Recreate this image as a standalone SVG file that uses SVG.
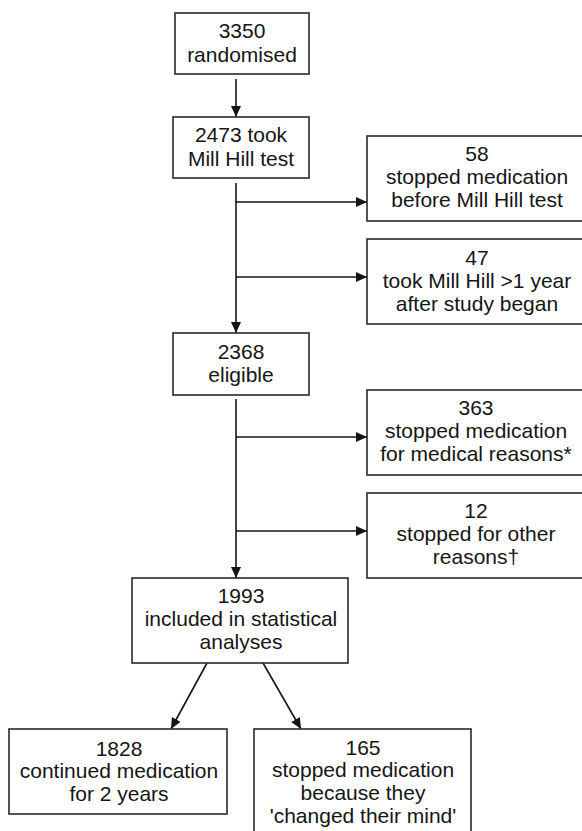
<svg xmlns="http://www.w3.org/2000/svg" width="582" height="831" viewBox="0 0 582 831">
<style>
.box{fill:#fff;stroke:#2a2a2a;stroke-width:1.6}
.t{font-family:"Liberation Sans",Arial,sans-serif;font-size:21px;fill:#151515;text-anchor:middle}
.c{stroke:#151515;stroke-width:1.6;fill:none;marker-end:url(#ah)}
</style>
<defs>
<marker id="ah" markerUnits="userSpaceOnUse" markerWidth="11" markerHeight="10" refX="11" refY="5" orient="auto">
<path d="M0,0 L11,5 L0,10 z" fill="#151515"/>
</marker>
</defs>
<rect width="582" height="831" fill="#fff"/>
<g id="connectors">
<line class="c" x1="236" y1="79" x2="236" y2="117"/>
<line class="c" x1="236" y1="183" x2="236" y2="333"/>
<line class="c" x1="236" y1="202" x2="367" y2="202"/>
<line class="c" x1="236" y1="277" x2="367" y2="277"/>
<line class="c" x1="236" y1="399" x2="236" y2="578"/>
<line class="c" x1="236" y1="437" x2="367" y2="437"/>
<line class="c" x1="236" y1="531" x2="367" y2="531"/>
<line class="c" x1="207" y1="663" x2="171" y2="729"/>
<line class="c" x1="263" y1="663" x2="301" y2="729"/>
</g>
<g id="n3350">
<rect class="box" x="175" y="13" width="134" height="61"/>
<text class="t" x="242" y="38">3350</text>
<text class="t" x="242" y="62">randomised</text>
</g>
<g id="n2473">
<rect class="box" x="173" y="117" width="136" height="61"/>
<text class="t" x="241" y="142">2473 took</text>
<text class="t" x="241" y="166">Mill Hill test</text>
</g>
<g id="n58">
<rect class="box" x="367" y="136" width="220" height="85"/>
<text class="t" x="477" y="161">58</text>
<text class="t" x="477" y="184">stopped medication</text>
<text class="t" x="477" y="207">before Mill Hill test</text>
</g>
<g id="n47">
<rect class="box" x="367" y="239" width="220" height="85"/>
<text class="t" x="477" y="265">47</text>
<text class="t" x="477" y="288">took Mill Hill &gt;1 year</text>
<text class="t" x="477" y="311">after study began</text>
</g>
<g id="n2368">
<rect class="box" x="173" y="333" width="136" height="62"/>
<text class="t" x="241" y="359">2368</text>
<text class="t" x="241" y="382">eligible</text>
</g>
<g id="n363">
<rect class="box" x="367" y="390" width="220" height="85"/>
<text class="t" x="476" y="415">363</text>
<text class="t" x="476" y="438">stopped medication</text>
<text class="t" x="476" y="461">for medical reasons*</text>
</g>
<g id="n12">
<rect class="box" x="367" y="493" width="220" height="85"/>
<text class="t" x="476" y="518">12</text>
<text class="t" x="476" y="541">stopped for other</text>
<text class="t" x="476" y="564">reasons†</text>
</g>
<g id="n1993">
<rect class="box" x="132" y="578" width="216" height="85"/>
<text class="t" x="241" y="603">1993</text>
<text class="t" x="241" y="626">included in statistical</text>
<text class="t" x="241" y="649">analyses</text>
</g>
<g id="n1828">
<rect class="box" x="9" y="729" width="218" height="85"/>
<text class="t" x="119" y="756">1828</text>
<text class="t" x="119" y="778">continued medication</text>
<text class="t" x="119" y="801">for 2 years</text>
</g>
<g id="n165">
<rect class="box" x="254" y="729" width="217" height="103"/>
<text class="t" x="363" y="755">165</text>
<text class="t" x="363" y="777">stopped medication</text>
<text class="t" x="363" y="800">because they</text>
<text class="t" x="363" y="823">'changed their mind'</text>
</g>
</svg>
